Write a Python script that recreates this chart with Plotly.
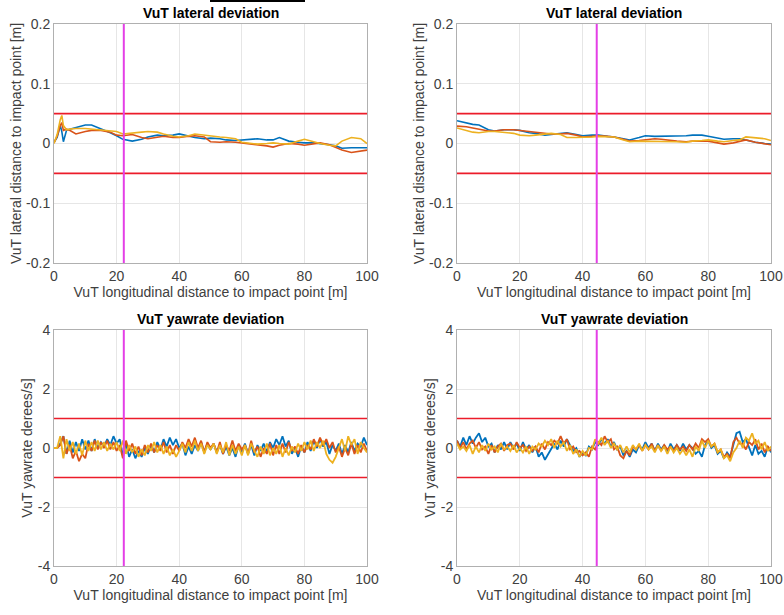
import plotly.graph_objects as go

# ---------------- data ----------------
x_lat_left = [0, 1, 2, 2.5, 3, 4, 5, 7, 10, 12, 15, 18, 20, 22, 25, 28, 30, 33, 35, 38, 40, 43, 45, 48, 50,
              53, 55, 58, 60, 63, 65, 68, 70, 72, 75, 78, 80, 83, 85, 88, 90, 92, 95, 98, 100]
lat_left_blue = [0.002, 0.01, 0.03, 0.02, 0.003, 0.022, 0.024, 0.027, 0.031, 0.031, 0.025, 0.018, 0.013, 0.007,
                 0.004, 0.007, 0.011, 0.014, 0.013, 0.014, 0.016, 0.012, 0.01, 0.008, 0.009, 0.008, 0.006, 0.005,
                 0.006, 0.008, 0.008, 0.006, 0.006, 0.01, 0.004, 0.002, 0.001, 0.001, 0.0, -0.002, -0.004, -0.008,
                 -0.007, -0.007, -0.007]
lat_left_orange = [0.001, 0.012, 0.03, 0.035, 0.022, 0.024, 0.022, 0.016, 0.02, 0.022, 0.022, 0.019, 0.014, 0.013,
                   0.015, 0.01, 0.008, 0.011, 0.012, 0.01, 0.01, 0.012, 0.013, 0.011, 0.003, 0.002, 0.003, 0.002,
                   0.001, -0.001, -0.002, -0.004, -0.006, -0.003, 0.0, -0.001, -0.003, 0.0, 0.001, -0.002, -0.007,
                   -0.011, -0.015, -0.012, -0.011]
lat_left_yellow = [0.0, 0.015, 0.04, 0.047, 0.03, 0.023, 0.024, 0.025, 0.025, 0.024, 0.023, 0.022, 0.02, 0.016,
                   0.018, 0.019, 0.02, 0.019, 0.016, 0.012, 0.011, 0.013, 0.016, 0.014, 0.012, 0.011, 0.01, 0.008,
                   0.002, 0.0, -0.001, 0.0, 0.001, 0.0, -0.001, 0.004, 0.007, 0.003, 0.0, -0.003, -0.004, 0.004,
                   0.01, 0.008, 0.0]

x_lat_right = [0, 3, 5, 7, 10, 12, 15, 18, 20, 23, 25, 28, 30, 33, 35, 38, 40, 43, 45, 48, 50, 53, 55, 58, 60,
               63, 65, 68, 70, 73, 75, 78, 80, 83, 85, 88, 90, 92, 95, 98, 100]
lat_right_blue = [0.038, 0.034, 0.032, 0.031, 0.023, 0.021, 0.023, 0.023, 0.022, 0.018, 0.017, 0.014, 0.015, 0.017,
                  0.018, 0.015, 0.013, 0.014, 0.014, 0.012, 0.011, 0.008, 0.006, 0.01, 0.013, 0.012, 0.012, 0.013,
                  0.013, 0.013, 0.014, 0.014, 0.012, 0.009, 0.007, 0.008, 0.008, 0.006, 0.002, 0.0, -0.001]
lat_right_orange = [0.029, 0.028, 0.026, 0.024, 0.021, 0.021, 0.023, 0.023, 0.022, 0.02, 0.019, 0.017, 0.016, 0.016,
                    0.017, 0.014, 0.011, 0.012, 0.013, 0.012, 0.011, 0.007, 0.004, 0.005, 0.006, 0.008, 0.007, 0.005,
                    0.004, 0.003, 0.004, 0.004, 0.004, 0.001, -0.001, 0.001, 0.004, 0.006, 0.002, -0.001, -0.002]
lat_right_yellow = [0.026, 0.022, 0.019, 0.018, 0.02, 0.02, 0.019, 0.017, 0.014, 0.013, 0.014, 0.016, 0.017, 0.015,
                    0.01, 0.01, 0.01, 0.011, 0.012, 0.012, 0.011, 0.006, 0.003, 0.004, 0.004, 0.004, 0.003, 0.003,
                    0.003, 0.002, 0.004, 0.005, 0.006, 0.004, 0.003, 0.005, 0.006, 0.011, 0.01, 0.008, 0.005]

x_yaw = list(range(0, 101))
yaw_left_blue = [0, 0, 0.15,
                 0.4, -0.2, 0.25, -0.15, 0.2, -0.1, 0.3, -0.05,
                 0.25, -0.1, 0.3, 0.0, 0.2, 0.05, 0.3, 0.1, 0.4, 0.15,
                 0.3, -0.25, 0.15, -0.3, -0.05, -0.35, -0.1, -0.3, 0.0, -0.2,
                 0.1, -0.15, 0.2, -0.05, 0.3, 0.05, 0.35, 0.1, 0.3, 0.0,
                 0.15, -0.25, 0.05, -0.2, 0.1, -0.1, 0.2, -0.15, 0.15, -0.05,
                 0.15, -0.15, 0.1, -0.2, 0.05, -0.25, 0.0, -0.3, 0.1, -0.15,
                 0.15, -0.2, 0.1, -0.25, 0.1, -0.1, 0.15, -0.15, 0.2, 0.0,
                 0.3, 0.1, 0.4, 0.05, 0.25, -0.2, 0.0, -0.3, 0.05, -0.15,
                 0.2, -0.1, 0.25, 0.0, 0.3, 0.05, 0.2, -0.2, 0.1, -0.1,
                 0.15, -0.2, 0.1, -0.15, 0.2, -0.1, 0.15, 0.05, 0.35, 0.1]
yaw_left_orange = [0, 0, 0.1,
                   0.4, -0.2, 0.1, -0.35, -0.1, -0.45, -0.2, -0.35,
                   0.15, -0.1, 0.25, -0.05, 0.2, 0.0, 0.25, -0.05, 0.2, -0.1,
                   0.1, -0.35, 0.25, -0.1, 0.15, -0.2, 0.05, -0.25, 0.1, -0.15,
                   0.15, -0.15, 0.1, -0.1, 0.2, -0.15, 0.1, -0.2, 0.1, -0.1,
                   0.2, 0.0, 0.3, 0.05, 0.35, 0.0, 0.25, -0.15, 0.2, 0.0,
                   0.15, -0.15, 0.2, -0.2, 0.1, -0.1, 0.25, -0.1, 0.15, -0.05,
                   0.1, -0.2, 0.25, -0.15, 0.05, -0.3, 0.0, -0.2, 0.15, -0.25,
                   0.1, -0.2, 0.15, -0.15, 0.2, -0.1, 0.05, -0.2, 0.1, -0.15,
                   0.1, -0.05, 0.3, 0.05, 0.35, 0.1, 0.3, 0.0, 0.2, -0.15,
                   0.05, -0.3, 0.0, -0.25, 0.15, -0.2, 0.1, -0.15, 0.15, -0.1]
yaw_left_yellow = [0, 0, 0.4,
                   -0.35, 0.3, -0.1, 0.2, -0.2, 0.15, -0.25, 0.25,
                   -0.1, 0.2, -0.1, 0.25, -0.05, 0.2, -0.1, 0.15, -0.05, 0.2,
                   -0.1, 0.25, -0.2, 0.1, -0.15, 0.05, -0.3, -0.05, -0.25, 0.1,
                   -0.1, 0.2, -0.15, 0.1, -0.2, 0.05, -0.25, -0.05, -0.3, -0.1,
                   0.15, -0.15, 0.2, -0.1, 0.25, -0.1, 0.15, -0.2, 0.1, -0.05,
                   0.15, -0.2, 0.1, -0.15, 0.2, -0.25, 0.1, -0.2, 0.05, -0.25,
                   0.1, -0.25, 0.15, -0.1, -0.3, 0.05, -0.2, 0.15, -0.25, 0.0,
                   -0.2, 0.1, -0.3, 0.0, -0.25, 0.05, -0.15, 0.15, -0.1, 0.2,
                   -0.05, 0.25, -0.1, 0.2, 0.0, 0.25, -0.2, -0.4, -0.5, -0.3,
                   0.0, 0.3, -0.1, 0.4, 0.1, 0.3, -0.2, 0.2, 0.0, -0.15]

yaw_right_blue = [0.25, 0.05, 0.35, 0.1, 0.4, 0.15, 0.35, 0.5, 0.2, 0.35, 0.05,
                  0.15, -0.15, 0.1, -0.05, 0.2, -0.05, 0.2, 0.0, 0.15, -0.1,
                  0.2, -0.05, 0.1, -0.15, 0.05, -0.3, -0.15, -0.4, -0.2, -0.05,
                  0.15, -0.05, 0.25, 0.05, 0.3, 0.1, -0.1, 0.0, -0.3, -0.15,
                  -0.25, 0.05, -0.05, 0.2, 0.1, 0.3, 0.15, 0.3, 0.05, 0.2,
                  -0.05, 0.05, -0.25, -0.1, -0.3, -0.05, -0.15, 0.1, -0.05, 0.2,
                  0.0, 0.15, -0.1, 0.15, -0.05, 0.1, -0.15, 0.15, -0.05, 0.1,
                  -0.1, 0.15, -0.05, 0.1, 0.0, -0.2, -0.1, -0.3, 0.1, 0.25,
                  0.0, 0.1, -0.2, -0.1, -0.35, -0.15, -0.3, 0.1, 0.5, 0.55,
                  0.2, 0.3, 0.0, -0.25, 0.1, -0.2, -0.1, -0.3, 0.05, -0.15]
yaw_right_orange = [0.25, 0.0, 0.2, -0.05, 0.15, 0.25, 0.0, 0.2, -0.05, 0.05, -0.2,
                    0.1, -0.15, 0.05, 0.15, -0.1, 0.1, 0.15, -0.05, 0.2, 0.0,
                    0.1, -0.1, 0.05, -0.1, 0.05, -0.15, 0.15, -0.05, 0.2, 0.1,
                    0.25, 0.15, 0.4, 0.15, 0.3, -0.05, 0.05, -0.15, -0.1, -0.25,
                    -0.15, -0.3, 0.05, -0.05, 0.2, 0.1, 0.4, 0.2, 0.3, -0.05,
                    0.05, -0.25, -0.35, -0.1, -0.25, 0.05, -0.05, 0.1, -0.1, 0.1,
                    -0.05, 0.15, -0.1, 0.1, -0.1, 0.1, -0.05, 0.05, -0.1, 0.1,
                    -0.05, 0.05, -0.1, 0.1, -0.05, 0.15, 0.0, 0.3, 0.2, 0.3,
                    0.05, 0.15, -0.15, -0.05, -0.3, -0.2, -0.35, 0.2, 0.35, 0.15,
                    0.15, -0.05, 0.2, 0.1, 0.3, -0.05, 0.15, -0.15, 0.05, -0.1]
yaw_right_yellow = [0.15, -0.05, 0.05, -0.1, 0.1, -0.2, 0.05, -0.15, 0.1, -0.1, 0.15,
                    -0.05, 0.05, -0.15, 0.15, -0.05, 0.05, -0.1, 0.1, -0.15, 0.0,
                    -0.15, 0.05, -0.2, 0.05, -0.05, 0.15, 0.05, 0.25, 0.1, 0.3,
                    0.0, 0.25, 0.05, 0.2, -0.1, 0.1, -0.2, -0.05, -0.3, -0.1,
                    -0.25, 0.0, -0.05, 0.3, 0.15, 0.35, 0.1, 0.25, 0.0, 0.15,
                    -0.05, 0.1, -0.15, 0.05, -0.15, 0.1, -0.05, 0.15, -0.1, 0.1,
                    -0.05, 0.05, -0.15, 0.1, -0.1, 0.05, -0.2, 0.05, -0.15, 0.0,
                    -0.2, -0.05, -0.25, -0.05, -0.3, 0.05, -0.1, 0.25, 0.0, 0.25,
                    0.05, 0.15, -0.15, -0.05, -0.35, -0.25, -0.45, -0.15, 0.0, 0.25,
                    0.0, 0.35, 0.25, 0.5, 0.15, 0.25, -0.05, 0.2, -0.1, 0.05]

impact_left = 22.3
impact_right = 44.5
lat_limit = 0.05
yaw_limit = 1.0

x_ticks = [0, 20, 40, 60, 80, 100]
lat_ticks = [-0.2, -0.1, 0, 0.1, 0.2]
lat_tick_labels = ["-0.2", "-0.1", "0", "0.1", "0.2"]
yaw_ticks = [-4, -2, 0, 2, 4]
yaw_tick_labels = ["-4", "-2", "0", "2", "4"]

title_lat = "VuT lateral deviation"
title_yaw = "VuT yawrate deviation"
xlabel = "VuT longitudinal distance to impact point [m]"
ylabel_lat = "VuT lateral distance to impact point [m]"
ylabel_yaw = "VuT yawrate derees/s]"

# ---------------- style ----------------
W, H = 784, 615
BLUE, ORANGE, YELLOW = "#0072BD", "#D95319", "#EDB120"
RED, MAGENTA = "#ec1c2a", "#e43fe6"
FONT = "Liberation Sans, Arial, sans-serif"
FS_TICK = 14
FS_LABEL = 14
FS_TITLE = 14

def px_x(p):
    return p / W

def px_y(p):
    return 1 - p / H

panels = [
    ("x", "y", (54, 367), (24, 263)),
    ("x2", "y2", (457, 771), (24, 263)),
    ("x3", "y3", (54, 367), (330, 566)),
    ("x4", "y4", (457, 771), (330, 566)),
]

fig = go.Figure()

def add_panel(idx, x_data, series, impact, limit, yr, lw):
    xa, ya = panels[idx][0], panels[idx][1]
    for yv, col in series:
        fig.add_trace(go.Scatter(x=x_data, y=yv, mode="lines", line=dict(color=col, width=lw),
                                 xaxis=xa, yaxis=ya, showlegend=False, hoverinfo="skip"))
    for lv in (limit, -limit):
        fig.add_trace(go.Scatter(x=[0, 100], y=[lv, lv], mode="lines", line=dict(color=RED, width=1.6),
                                 xaxis=xa, yaxis=ya, showlegend=False, hoverinfo="skip"))
    fig.add_trace(go.Scatter(x=[impact, impact], y=yr, mode="lines", line=dict(color=MAGENTA, width=2),
                             xaxis=xa, yaxis=ya, showlegend=False, hoverinfo="skip"))

add_panel(0, x_lat_left, [(lat_left_blue, BLUE), (lat_left_orange, ORANGE), (lat_left_yellow, YELLOW)],
          impact_left, lat_limit, [-0.2, 0.2], 1.6)
add_panel(1, x_lat_right, [(lat_right_blue, BLUE), (lat_right_orange, ORANGE), (lat_right_yellow, YELLOW)],
          impact_right, lat_limit, [-0.2, 0.2], 1.6)
add_panel(2, x_yaw, [(yaw_left_blue, BLUE), (yaw_left_orange, ORANGE), (yaw_left_yellow, YELLOW)],
          impact_left, yaw_limit, [-4, 4], 1.8)
add_panel(3, x_yaw, [(yaw_right_blue, BLUE), (yaw_right_orange, ORANGE), (yaw_right_yellow, YELLOW)],
          impact_right, yaw_limit, [-4, 4], 1.8)

layout = dict(
    width=W, height=H,
    margin=dict(l=0, r=0, t=0, b=0, autoexpand=False),
    paper_bgcolor="white", plot_bgcolor="white",
    font=dict(family=FONT, size=FS_TICK, color="#404040"),
    showlegend=False,
    annotations=[],
    shapes=[dict(type="line", xref="paper", yref="paper", x0=px_x(210), x1=px_x(305),
                 y0=px_y(1), y1=px_y(1), line=dict(color="black", width=2))],
)

for i, (xa, ya, (xl, xr), (yt, yb)) in enumerate(panels):
    is_lat = i < 2
    xkey = "xaxis" if xa == "x" else "xaxis" + xa[1:]
    ykey = "yaxis" if ya == "y" else "yaxis" + ya[1:]
    layout[xkey] = dict(
        domain=[px_x(xl), px_x(xr)], anchor=ya, range=[0, 100], automargin=False,
        tickvals=x_ticks, ticktext=[str(t) for t in x_ticks],
        showgrid=True, gridcolor="#e6e6e6", gridwidth=1, zeroline=False,
        showline=True, mirror=True, linecolor="#b0b0b0", linewidth=1,
        ticks="", tickfont=dict(size=FS_TICK, color="#404040"),
        title=dict(text=xlabel, font=dict(size=FS_LABEL, color="#404040"), standoff=3),
    )
    layout[ykey] = dict(
        domain=[px_y(yb), px_y(yt)], anchor=xa, automargin=False,
        range=[-0.2, 0.2] if is_lat else [-4, 4],
        tickvals=lat_ticks if is_lat else yaw_ticks,
        ticktext=lat_tick_labels if is_lat else yaw_tick_labels,
        showgrid=True, gridcolor="#e6e6e6", gridwidth=1, zeroline=False,
        showline=True, mirror=True, linecolor="#b0b0b0", linewidth=1,
        ticks="", tickfont=dict(size=FS_TICK, color="#404040"),
        title=dict(text=ylabel_lat if is_lat else ylabel_yaw, font=dict(size=FS_LABEL, color="#404040"),
                   standoff=1),
    )
    layout["annotations"].append(dict(
        text="<b>" + (title_lat if is_lat else title_yaw) + "</b>",
        xref="paper", yref="paper", x=px_x((xl + xr) / 2), y=px_y(yt - 1),
        xanchor="center", yanchor="bottom", showarrow=False,
        font=dict(size=FS_TITLE, color="black", family=FONT),
    ))

fig.update_layout(**layout)
fig.write_html("out.html")
